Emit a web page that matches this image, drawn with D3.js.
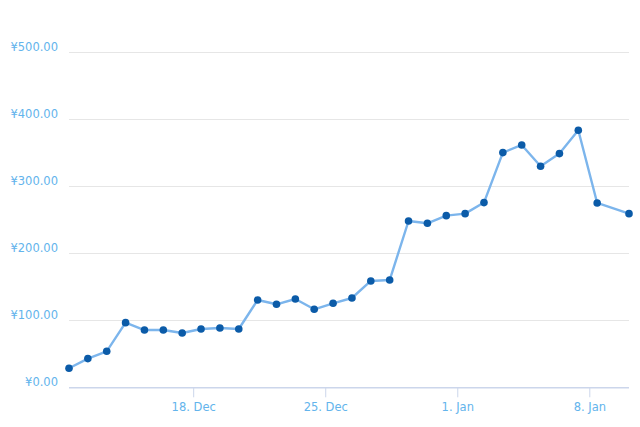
<!DOCTYPE html>
<html><head><meta charset="utf-8">
<script src="https://cdn.jsdelivr.net/npm/d3@7"></script>
<style>body{margin:0;background:#fff}svg{display:block}</style>
</head><body>
<svg id="c" width="640" height="427"></svg>
<script>
const dates = [
 "2017-12-11T10:00","2017-12-12T10:00","2017-12-13T10:00","2017-12-14T10:00","2017-12-15T10:00",
 "2017-12-16T10:00","2017-12-17T10:00","2017-12-18T10:00","2017-12-19T10:00","2017-12-20T10:00",
 "2017-12-21T10:00","2017-12-22T10:00","2017-12-23T10:00","2017-12-24T10:00","2017-12-25T10:00",
 "2017-12-26T10:00","2017-12-27T10:00","2017-12-28T10:00","2017-12-29T10:00","2017-12-30T10:00",
 "2017-12-31T10:00","2018-01-01T10:00","2018-01-02T10:00","2018-01-03T10:00","2018-01-04T10:00",
 "2018-01-05T10:00","2018-01-06T10:00","2018-01-07T10:00","2018-01-08T10:00","2018-01-10T02:30"];
const values = [28.4,42.8,53.7,96.5,85.5,85.5,81,87,88.5,87,
 130.3,123.9,131.8,116.4,125.4,133.3,158.7,160.1,248.2,244.8,
 256.2,259.2,275.7,350.3,361.7,329.9,348.8,383.6,275.1,259.2];
const yTicks = [0,100,200,300,400,500];
const xTicks = ["2017-12-18","2017-12-25","2018-01-01","2018-01-08"];

const parse = d3.timeParse("%Y-%m-%dT%H:%M");
const parseDay = d3.timeParse("%Y-%m-%d");
const data = dates.map((d,i)=>({x:parse(d), y:values[i]}));
const svg = d3.select("#c");
const mLeft = 69, mRight = 629, mTop = 52.3, mBottom = 387.3;
const x = d3.scaleTime().domain(d3.extent(data, d=>d.x)).range([mLeft, mRight]);
const y = d3.scaleLinear().domain([0,500]).range([mBottom, mTop]);
const txt = "#63b4ec";
const font = "DejaVu Sans, Verdana, sans-serif";

// grid
svg.append("g").selectAll("line").data(yTicks.filter(t=>t>0)).join("line")
  .attr("x1", mLeft).attr("x2", mRight)
  .attr("y1", d=>Math.round(y(d))+0.5).attr("y2", d=>Math.round(y(d))+0.5)
  .attr("stroke", "#e6e6e6").attr("stroke-width", 1);

// y labels
const yAxis = d3.axisLeft(y).tickValues(yTicks).tickSize(0).tickPadding(0)
  .tickFormat(d=>"¥"+d3.format(".2f")(d));
const ga = svg.append("g").attr("transform", `translate(58,-5)`).call(yAxis);
ga.select(".domain").remove();
ga.selectAll("text").attr("fill", txt).attr("font-family", font).attr("font-size", "11.5px").attr("dy","0.32em");

// x axis
const xAxis = d3.axisBottom(x).tickValues(xTicks.map(parseDay)).tickSize(10).tickPadding(6)
  .tickFormat(d3.timeFormat("%-d. %b"));
const gx = svg.append("g").attr("transform", `translate(0,${mBottom})`).call(xAxis);
gx.select(".domain").attr("d", `M${mLeft},0.5H${mRight}`).attr("stroke", "#ccd6eb").attr("stroke-width", 1.5);
gx.selectAll(".tick line").attr("stroke", "#ccd6eb");
gx.selectAll("text").attr("fill", txt).attr("font-family", font).attr("font-size", "11.5px");

// line
const line = d3.line().x(d=>x(d.x)).y(d=>y(d.y));
svg.append("path").datum(data).attr("d", line).attr("fill","none")
  .attr("stroke", "#7cb5ec").attr("stroke-width", 2.4).attr("stroke-linejoin","round");
svg.append("g").selectAll("circle").data(data).join("circle")
  .attr("cx", d=>x(d.x)).attr("cy", d=>y(d.y)).attr("r", 3.8)
  .attr("fill", "#0b5ba8");
</script>
</body></html>
